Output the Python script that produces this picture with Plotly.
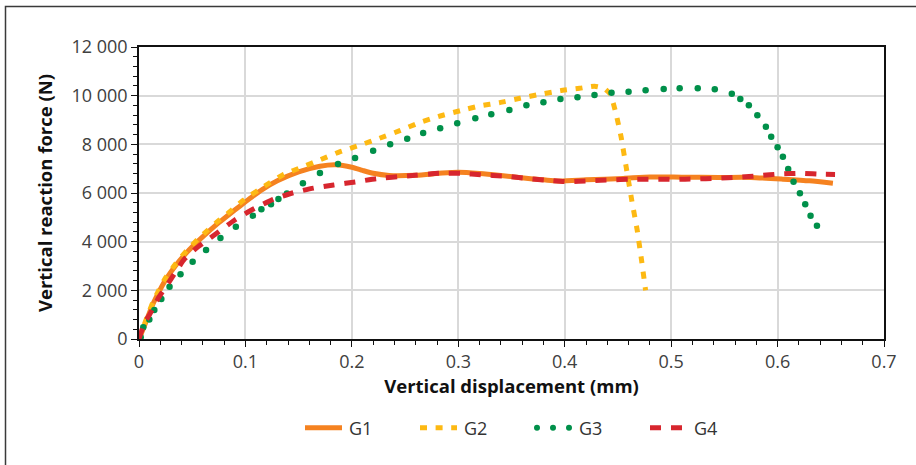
import plotly.graph_objects as go

# Vertical displacement (mm) and vertical reaction force (N) for each specimen
g1_x = [0, 0.004, 0.008, 0.013, 0.019, 0.025, 0.035, 0.045, 0.055, 0.065, 0.075, 0.085,
        0.095, 0.105, 0.115, 0.13, 0.15, 0.17, 0.185, 0.20, 0.21, 0.22, 0.235, 0.26,
        0.285, 0.30, 0.32, 0.34, 0.37, 0.395, 0.42, 0.455, 0.48, 0.51, 0.545, 0.575,
        0.605, 0.63, 0.652]
g1_y = [0, 420, 880, 1430, 1960, 2430, 3050, 3560, 4000, 4400, 4780, 5130,
        5470, 5800, 6120, 6500, 6870, 7100, 7160, 7060, 6930, 6810, 6720, 6730,
        6820, 6850, 6800, 6720, 6580, 6490, 6540, 6600, 6660, 6650, 6640, 6640,
        6570, 6500, 6400]

g2_x = [0, 0.004, 0.008, 0.013, 0.019, 0.025, 0.035, 0.045, 0.055, 0.065, 0.075, 0.085,
        0.098, 0.117, 0.135, 0.154, 0.17, 0.189, 0.208, 0.226, 0.245, 0.264, 0.283,
        0.302, 0.32, 0.339, 0.358, 0.377, 0.396, 0.414, 0.428, 0.437, 0.443, 0.448,
        0.453, 0.458, 0.463, 0.468, 0.472, 0.476]
g2_y = [0, 480, 950, 1500, 2040, 2520, 3120, 3640, 4090, 4490, 4870, 5220,
        5700, 6260, 6740, 7080, 7360, 7700, 7970, 8250, 8560, 8900, 9165,
        9384, 9576, 9713, 9892, 10056, 10207, 10303, 10390, 10300, 10050, 9300,
        8300, 7000, 5700, 4500, 3300, 2000]

g3_x = [0, 0.0016, 0.004, 0.0097, 0.0144, 0.021, 0.0287, 0.039, 0.0504, 0.063, 0.0765,
        0.091, 0.107, 0.115, 0.124, 0.131, 0.139, 0.154, 0.170, 0.187, 0.203, 0.220,
        0.236, 0.252, 0.267, 0.283, 0.299, 0.316, 0.331, 0.348, 0.364, 0.380, 0.396,
        0.412, 0.428, 0.444, 0.460, 0.476, 0.493, 0.508, 0.525, 0.541, 0.557, 0.565,
        0.573, 0.581, 0.589, 0.594, 0.600, 0.605, 0.610, 0.615, 0.621, 0.626, 0.631,
        0.637]
g3_y = [0, 70, 480, 800, 1192, 1640, 2150, 2665, 3172, 3658, 4150,
        4617, 5068, 5330, 5540, 5754, 5975, 6405, 6822, 7192, 7439, 7740,
        8000, 8233, 8467, 8659, 8864, 9070, 9234, 9412, 9604, 9727, 9860,
        9940, 10028, 10124, 10165, 10220, 10275, 10303, 10303, 10261, 10083, 9864,
        9604, 9193, 8727, 8315, 7878, 7493, 6987, 6466, 5987, 5535, 5068,
        4650]

g4_x = [0, 0.005, 0.0097, 0.019, 0.0285, 0.043, 0.0557, 0.073, 0.090, 0.107, 0.126,
        0.145, 0.164, 0.183, 0.205, 0.223, 0.252, 0.283, 0.302, 0.323, 0.342, 0.363,
        0.381, 0.402, 0.424, 0.443, 0.461, 0.483, 0.504, 0.522, 0.543, 0.563, 0.583,
        0.602, 0.623, 0.643, 0.654]
g4_y = [0, 645, 986, 1740, 2357, 3300, 3795, 4343, 4890, 5330, 5740,
        6010, 6200, 6330, 6466, 6590, 6700, 6810, 6810, 6740, 6700, 6604,
        6535, 6466, 6506, 6535, 6563, 6563, 6563, 6576, 6604, 6645, 6712,
        6782, 6810, 6768, 6760]

colors = {"G1": "#F58220", "G2": "#FDB913", "G3": "#00904A", "G4": "#D7262E"}

FONT = "Open Sans"
LABEL_GREY = "#404040"
TICK_SIZE = 18
TITLE_SIZE = 18.5

fig = go.Figure()

fig.add_trace(go.Scatter(
    x=g1_x, y=g1_y, name="G1", mode="lines",
    line=dict(color=colors["G1"], width=5, shape="spline", smoothing=0.6),
))
fig.add_trace(go.Scatter(
    x=g2_x, y=g2_y, name="G2", mode="lines",
    line=dict(color=colors["G2"], width=5, dash="7px,8.6px", shape="spline", smoothing=0.4),
))
# G3 is shown as round dots at the recorded points; a line-only entry carries the legend
fig.add_trace(go.Scatter(
    x=g3_x, y=g3_y, name="G3", mode="markers", showlegend=False,
    marker=dict(color=colors["G3"], size=6.5, line=dict(width=0)),
))
fig.add_trace(go.Scatter(
    x=[None], y=[None], name="G3", mode="lines",
    line=dict(color=colors["G3"], width=6, dash="6px,9px"),
))
fig.add_trace(go.Scatter(
    x=g4_x, y=g4_y, name="G4", mode="lines",
    line=dict(color=colors["G4"], width=5, dash="11px,10px", shape="spline", smoothing=0.5),
))

W, H = 916, 465
L, R, T, B = 139, 32, 47, 126
pw, ph = W - L - R, H - T - B


def px_to_paper_x(px):
    return (px - L) / pw


def px_to_paper_y(py):
    return (H - B - py) / ph


fig.update_layout(
    width=W, height=H,
    margin=dict(l=L, r=R, t=T, b=B, pad=0),
    paper_bgcolor="white", plot_bgcolor="white",
    font=dict(family=FONT, size=TICK_SIZE, color=LABEL_GREY),
    separators=". ",
    showlegend=True,
    legend=dict(
        orientation="h", x=px_to_paper_x(303), xanchor="left",
        y=px_to_paper_y(428), yanchor="middle",
        font=dict(family=FONT, size=18, color="#333333"),
        entrywidth=64, entrywidthmode="pixels",
        itemwidth=36, traceorder="normal",
        bgcolor="rgba(0,0,0,0)",
    ),
    shapes=[dict(
        type="rect", xref="paper", yref="paper",
        x0=px_to_paper_x(5.5), x1=px_to_paper_x(930),
        y0=px_to_paper_y(480), y1=px_to_paper_y(6.5),
        line=dict(color="#3a3a3a", width=1.5), fillcolor="rgba(0,0,0,0)",
        layer="below",
    )],
)

fig.update_xaxes(
    range=[0, 0.7], dtick=0.1, tick0=0,
    showgrid=True, gridcolor="#d9d9d9", gridwidth=1.5,
    showline=True, linecolor="#111111", linewidth=1.5, mirror=True,
    ticks="outside", ticklen=6, tickwidth=1.3, tickcolor="#111111",
    minor=dict(dtick=0.02, ticks="outside", ticklen=4.5, tickwidth=1.2,
               tickcolor="#111111", showgrid=False),
    tickfont=dict(family=FONT, size=TICK_SIZE, color=LABEL_GREY),
    title=dict(text="<b>Vertical displacement (mm)</b>", standoff=7,
               font=dict(family=FONT, size=TITLE_SIZE, color="#111111")),
    zeroline=False, automargin=False, fixedrange=True,
)
fig.update_yaxes(
    range=[0, 12000], dtick=2000, tick0=0, tickformat=",d",
    showgrid=True, gridcolor="#d9d9d9", gridwidth=1.5,
    showline=True, linecolor="#111111", linewidth=1.5, mirror=True,
    ticks="outside", ticklen=6, tickwidth=1.3, tickcolor="#111111",
    minor=dict(dtick=400, ticks="outside", ticklen=4.5, tickwidth=1.2,
               tickcolor="#111111", showgrid=False),
    tickfont=dict(family=FONT, size=TICK_SIZE, color=LABEL_GREY),
    title=dict(text="<b>Vertical reaction force (N)</b>", standoff=14,
               font=dict(family=FONT, size=TITLE_SIZE, color="#111111")),
    zeroline=False, automargin=False, fixedrange=True,
)

# legend swatches a little longer, and round caps for the dotted G3 line
post = """
var gd = document.getElementById('{plot_id}');
function styleLegend() {
  gd.querySelectorAll('g.legendlines path.js-line').forEach(function (p) {
    p.setAttribute('d', 'M2,0h37');
  });
  gd.querySelectorAll('path.js-line').forEach(function (p) {
    var s = p.style.stroke.replace(/\\s/g, '');
    if (s === 'rgb(0,144,74)') {
      p.style.strokeLinecap = 'round';
      p.style.strokeDasharray = '0px,16px';
      p.setAttribute('d', 'M4,0h33');
    }
  });
}
styleLegend();
gd.on('plotly_afterplot', styleLegend);
"""

fig.write_html("out.html", post_script=post, config={"displayModeBar": False})
